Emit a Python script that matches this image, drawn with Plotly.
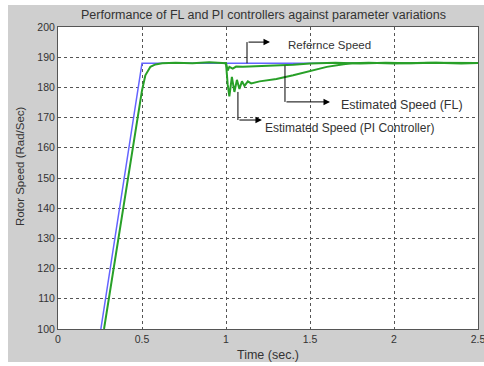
import plotly.graph_objects as go

# ---- data ----
t_ref = [0.255, 0.50, 1.0, 2.5]
v_ref = [100, 188, 188, 188]

t_fl = [0.274, 0.35, 0.42, 0.48, 0.50, 0.52, 0.55, 0.58, 0.62, 0.70, 0.80, 0.90, 0.99,
        1.00, 1.01, 1.02, 1.04, 1.06, 1.10, 1.20, 1.30, 1.40, 1.50, 1.55, 1.65, 1.80,
        1.95, 2.10, 2.25, 2.40, 2.50]
v_fl = [100, 127, 152, 173, 179, 184, 186.8, 187.6, 188.0, 188.2, 188.0, 188.3, 188.0,
        188, 185.6, 186.8, 186.2, 186.9, 186.8, 187.0, 187.2, 187.5, 187.9, 188.0, 188.2,
        187.9, 188.2, 188.0, 188.2, 187.9, 188.1]

t_pi = [0.99, 1.00, 1.01, 1.02, 1.035, 1.05, 1.065, 1.08, 1.095, 1.11, 1.13, 1.15,
        1.20, 1.30, 1.40, 1.50, 1.60, 1.70, 1.75, 1.85, 2.00, 2.20, 2.40, 2.50]
v_pi = [188.0, 188, 181, 177, 183.5, 178.5, 182.5, 179.5, 182, 180.5, 182, 181.3,
        182.0, 182.8, 184.0, 185.5, 186.8, 187.7, 188.0, 188.2, 187.9, 188.2, 188.0, 188.1]

x_ticks = [0, 0.5, 1, 1.5, 2, 2.5]
x_tick_labels = ["0", "0.5", "1", "1.5", "2", "2.5"]
y_ticks = [100, 110, 120, 130, 140, 150, 160, 170, 180, 190, 200]

title = "Performance of FL and PI controllers against parameter variations"
x_title = "Time (sec.)"
y_title = "Rotor Speed (Rad/Sec)"
lbl_ref = "Refernce Speed"
lbl_fl = "Estimated Speed (FL)"
lbl_pi = "Estimated Speed (PI Controller)"

GRAY = "#cfcfcf"
TXT = "#333333"
FONT = "Liberation Sans, Arial, sans-serif"

fig = go.Figure()
fig.add_trace(go.Scatter(x=t_ref, y=v_ref, mode="lines",
                         line=dict(color="#6464ff", width=1.5)))
fig.add_trace(go.Scatter(x=t_pi, y=v_pi, mode="lines",
                         line=dict(color="#28a028", width=2)))
fig.add_trace(go.Scatter(x=t_fl, y=v_fl, mode="lines",
                         line=dict(color="#28a028", width=2)))

# arrows: vertical segments (shapes) + horizontal arrows (annotations)
arrows = [
    # (x_vert, y_from, y_to, x_head)
    (1.125, 188.0, 195.0, 1.262),
    (1.351, 187.2, 175.2, 1.619),
    (1.071, 178.5, 169.2, 1.214),
]
for xv, y0, y1, xh in arrows:
    fig.add_shape(type="line", xref="x", yref="y", x0=xv, x1=xv, y0=y0, y1=y1,
                  line=dict(color="black", width=1))
    fig.add_annotation(x=xh, y=y1, ax=xv, ay=y1, xref="x", yref="y",
                       axref="x", ayref="y", text="", showarrow=True,
                       arrowhead=2, arrowsize=1.3, arrowwidth=1, arrowcolor="black")

texts = [
    (1.357, 194.0, lbl_ref, 11.5),
    (1.672, 174.3, lbl_fl, 12.5),
    (1.220, 166.4, lbl_pi, 12),
]
for xt, yt, s, fs in texts:
    fig.add_annotation(x=xt, y=yt, xref="x", yref="y", text=s, showarrow=False,
                       xanchor="left", yanchor="middle",
                       font=dict(size=fs, color=TXT, family=FONT))

# white strips around the gray figure area
for x0, x1, y0, y1 in [(-0.2, -0.119, -0.2, 1.2), (-0.2, 1.2, 1.073, 1.2),
                       (-0.2, 1.2, -0.2, -0.109)]:
    fig.add_shape(type="rect", xref="paper", yref="paper", x0=x0, x1=x1, y0=y0, y1=y1,
                  fillcolor="white", line=dict(width=0), layer="above")

fig.add_annotation(x=0.49, y=1.04, xref="paper", yref="paper", text=title,
                   showarrow=False, xanchor="center", yanchor="middle",
                   font=dict(size=12.5, color=TXT, family=FONT))
fig.add_annotation(x=0.5, y=-0.085, xref="paper", yref="paper", text=x_title,
                   showarrow=False, xanchor="center", yanchor="middle",
                   font=dict(size=12.5, color=TXT, family=FONT))
fig.add_annotation(x=-0.09, y=0.54, xref="paper", yref="paper", text=y_title,
                   showarrow=False, textangle=-90, xanchor="center", yanchor="middle",
                   font=dict(size=11.5, color=TXT, family=FONT))

axis_common = dict(showgrid=True, gridcolor="#555555", griddash="3px,3px", gridwidth=1,
                   showline=True, linecolor="#555555", linewidth=1, mirror=True,
                   zeroline=False, ticks="", automargin=False,
                   tickfont=dict(size=10.5, color=TXT, family=FONT))
fig.update_xaxes(range=[0, 2.5], tickvals=x_ticks, ticktext=x_tick_labels,
                 ticklabeloverflow="allow", **axis_common)
fig.update_yaxes(range=[100, 200], tickvals=y_ticks, **axis_common)

fig.update_layout(width=484, height=366, margin=dict(l=58, r=6, t=27, b=37),
                  paper_bgcolor=GRAY, plot_bgcolor="white", showlegend=False)

fig.write_html("out.html")
